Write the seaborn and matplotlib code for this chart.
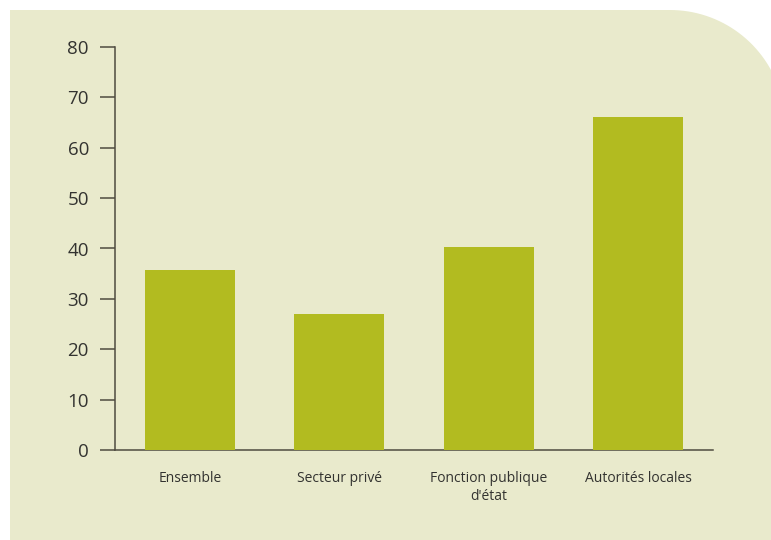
import matplotlib
matplotlib.use("Agg")
import matplotlib.pyplot as plt
from matplotlib.path import Path
from matplotlib.patches import PathPatch
import numpy as np
import seaborn as sns

categories = ["Ensemble", "Secteur privé", "Fonction publique\nd'état", "Autorités locales"]
values = [35.7, 27.0, 40.3, 66.1]
yticks = [0, 10, 20, 30, 40, 50, 60, 70, 80]

panel_color = "#e9eacc"
bar_color = "#b2bb20"
axis_color = "#4f4b40"
text_color = "#333330"

sns.set_theme(style="white")
plt.rcParams["font.family"] = ["Open Sans", "DejaVu Sans"]

W, H, DPI = 771, 540, 100
fig = plt.figure(figsize=(W / DPI, H / DPI), dpi=DPI)
fig.patch.set_facecolor("white")

# cream panel with a rounded upper-right corner (pixel coordinates, origin bottom-left)
left, top, right, bottom, r = 10, H - 10, W + 2, -2, 115
theta = np.linspace(np.pi / 2, 0, 40)
cx, cy = 670, top - r
arc = np.column_stack([cx + r * np.cos(theta), cy + r * np.sin(theta)])
verts = np.vstack([[left, bottom], [left, top], arc, [right, cy - 200], [right, bottom], [left, bottom]])
codes = [Path.MOVETO] + [Path.LINETO] * (len(verts) - 2) + [Path.CLOSEPOLY]
panel = PathPatch(Path(verts / DPI, codes), facecolor=panel_color, edgecolor="none",
                  transform=fig.dpi_scale_trans, zorder=-10)
fig.patches.append(panel)

ax = fig.add_axes([115 / W, 1 - 450 / H, (713 - 115) / W, (450 - 47) / H])
ax.set_facecolor("none")
ax.patch.set_alpha(0)

sns.barplot(x=categories, y=values, color=bar_color, saturation=1, width=0.6,
            linewidth=0, edgecolor="none", ax=ax, zorder=3)

ax.set_xlim(-0.5, 3.5)
ax.set_ylim(0, 80)
ax.set_yticks(yticks)
ax.set_yticklabels([str(t) for t in yticks], fontsize=13.5, color=text_color)
ax.set_xlabel("")
ax.set_ylabel("")

for s in ["top", "right"]:
    ax.spines[s].set_visible(False)
for s in ["left", "bottom"]:
    ax.spines[s].set_color(axis_color)
    ax.spines[s].set_linewidth(1.1)

ax.tick_params(axis="y", direction="out", length=10.8, width=1.1, color=axis_color, pad=8, left=True)
ax.tick_params(axis="x", length=0, pad=15)
for lbl in ax.get_xticklabels():
    lbl.set_fontfamily(["Liberation Sans Narrow", "Open Sans", "DejaVu Sans"])
    lbl.set_fontsize(10)
    lbl.set_color(text_color)
    lbl.set_verticalalignment("top")
    lbl.set_linespacing(1.3)

fig.savefig("out.png", dpi=DPI, facecolor=fig.get_facecolor())
